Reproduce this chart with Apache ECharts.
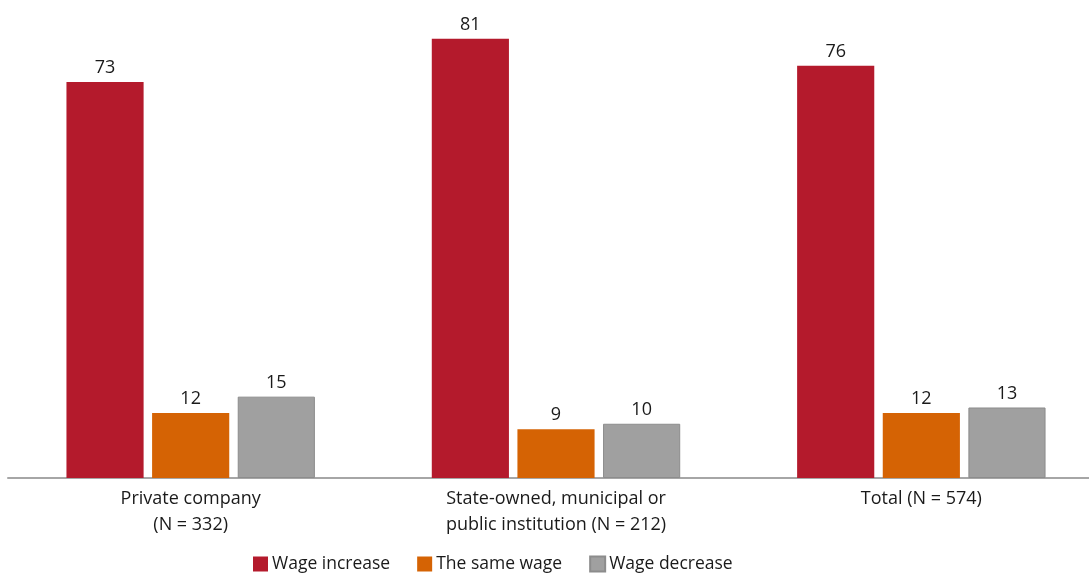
<!DOCTYPE html>
<html>
<head>
<meta charset="utf-8">
<style>
  html, body { margin: 0; padding: 0; background: #ffffff; overflow: hidden; }
  /* the plot area runs slightly past the right edge of the window */
  #chart { width: 1104px; height: 574px; }
</style>
<script src="https://cdn.jsdelivr.net/npm/echarts@6/dist/echarts.min.js"></script>
</head>
<body>
<div id="chart"></div>
<script>
// Wage change by employer type (percent)
const categories = [
  'Private company\n(N = 332)',
  'State-owned, municipal or\npublic institution (N = 212)',
  'Total (N = 574)'
];
const seriesNames = ['Wage increase', 'The same wage', 'Wage decrease'];
const wageIncrease = [73, 81, 76];
const sameWage = [12, 9, 12];
const wageDecrease = [15, 10, 13];

const colors = ['#B41A2C', '#D56304', '#A0A0A0'];
const FONT = 'Open Sans';

const chart = echarts.init(document.getElementById('chart'), null, { renderer: 'canvas' });

function barSeries(name, data, color, border) {
  return {
    name: name,
    type: 'bar',
    data: data,
    barGap: '11%',
    barCategoryGap: '32%',
    itemStyle: {
      color: color,
      borderColor: border || color,
      borderWidth: border ? 1 : 0
    },
    label: {
      show: true,
      position: 'top',
      distance: 5,
      color: '#1a1a1a',
      fontFamily: FONT,
      fontSize: 18
    }
  };
}

chart.setOption({
  animation: false,
  textStyle: { fontFamily: FONT },
  grid: { left: 8, right: 0, top: 17, bottom: 96, containLabel: false },
  legend: {
    bottom: -4,
    left: 248,
    itemWidth: 15,
    itemHeight: 15,
    itemGap: 27,
    icon: 'rect',
    textStyle: { fontFamily: FONT, fontSize: 17.5, color: '#1a1a1a', padding: [0, 0, 0, -1] },
    data: seriesNames
  },
  xAxis: {
    type: 'category',
    data: categories,
    axisLine: { lineStyle: { color: '#A6A6A6', width: 2 } },
    axisTick: { show: false },
    axisLabel: {
      color: '#1a1a1a',
      fontFamily: FONT,
      fontSize: 18,
      lineHeight: 26,
      margin: 8
    }
  },
  yAxis: {
    type: 'value',
    min: 0,
    max: 85,
    show: false,
    splitLine: { show: false }
  },
  series: [
    barSeries(seriesNames[0], wageIncrease, colors[0]),
    barSeries(seriesNames[1], sameWage, colors[1]),
    barSeries(seriesNames[2], wageDecrease, colors[2], '#8C8C8C')
  ]
});
</script>
</body>
</html>
